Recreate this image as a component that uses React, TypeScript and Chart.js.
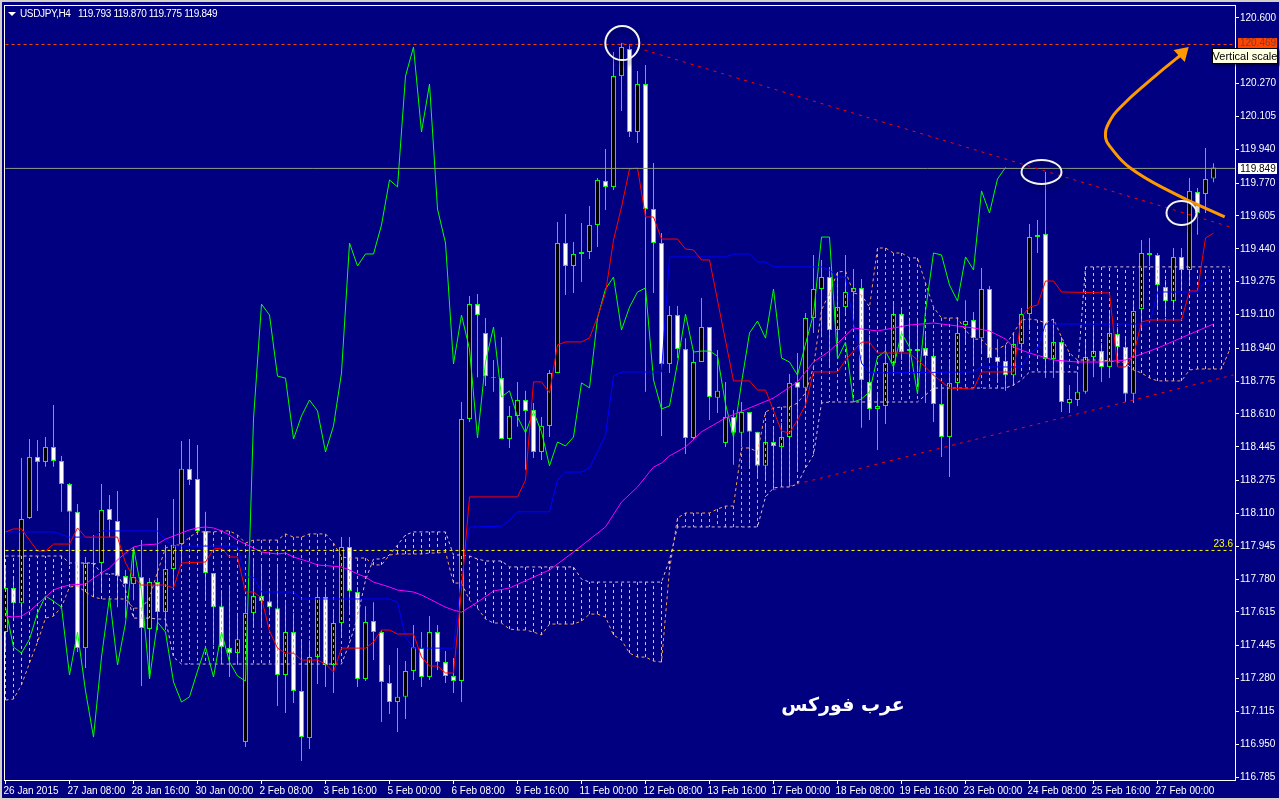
import React, { useEffect, useRef } from "react";
import { Chart, registerables } from "chart.js";

Chart.register(...registerables);

const opens = [
117.514,117.735,117.659,118.087,118.394,118.369,118.444,118.374,118.258,118.118,117.433,117.861,117.861,118.132,118.072,117.795,117.755,117.790,117.529,117.765,
117.614,117.831,117.956,118.334,118.283,118.022,117.811,117.644,117.433,117.408,116.961,117.609,117.695,117.669,117.634,117.298,117.514,117.218,116.981,117.388,
117.690,117.348,117.559,117.941,117.715,117.278,117.569,117.514,117.258,117.162,117.188,117.318,117.433,117.288,117.514,117.363,117.293,117.268,118.585,119.162,
119.017,118.795,118.790,118.484,118.600,118.680,118.630,118.419,118.550,118.816,119.469,119.354,119.424,119.424,119.560,119.781,119.751,120.308,120.444,120.027,
120.268,119.640,119.469,118.861,119.107,118.936,118.489,118.871,119.047,118.691,118.464,118.595,118.515,118.620,118.520,118.349,118.469,118.444,118.494,118.771,
118.741,119.092,119.238,119.298,119.032,119.147,119.223,119.243,118.771,118.635,118.650,118.866,119.112,118.936,118.936,118.941,118.901,118.660,118.494,118.766,
119.057,119.082,118.991,119.238,118.896,118.876,118.805,118.961,119.112,119.510,119.515,118.886,118.971,118.665,118.680,118.721,118.896,118.926,118.846,119.012,
118.946,118.711,119.137,119.419,119.409,119.248,119.177,119.399,119.334,119.726,119.716,119.793];

const closes = [
117.735,117.659,118.082,118.394,118.369,118.444,118.374,118.258,118.118,117.433,117.861,117.856,118.127,118.077,117.795,117.755,117.790,117.534,117.765,117.614,
117.831,117.951,118.334,118.278,118.022,117.811,117.639,117.438,117.408,117.478,117.609,117.695,117.669,117.639,117.298,117.514,117.218,116.986,117.388,117.690,
117.348,117.559,117.941,117.720,117.278,117.564,117.514,117.263,117.162,117.188,117.318,117.438,117.288,117.514,117.363,117.293,117.268,118.585,119.162,119.107,
118.800,118.790,118.484,118.600,118.680,118.625,118.419,118.550,118.816,119.469,119.354,119.414,119.414,119.560,119.786,119.751,120.308,120.454,120.027,120.268,
119.640,119.469,118.861,119.107,118.936,118.489,118.871,119.047,118.695,118.726,118.595,118.515,118.620,118.520,118.349,118.469,118.449,118.494,118.766,118.741,
119.092,119.238,119.298,119.032,119.147,119.223,119.243,118.781,118.635,118.650,118.866,119.112,118.921,118.926,118.926,118.901,118.660,118.494,118.766,119.017,
119.077,118.991,119.238,118.891,118.871,118.805,118.961,119.112,119.499,119.499,118.886,118.971,118.670,118.685,118.721,118.896,118.926,118.846,119.017,118.946,
118.711,119.127,119.419,119.409,119.258,119.177,119.399,119.334,119.731,119.620,119.791,119.849];

const highs = [
117.836,117.785,118.389,118.484,118.479,118.494,118.655,118.399,118.263,118.157,117.891,118.002,118.258,118.203,118.223,117.826,117.941,117.976,117.785,118.087,
117.951,118.182,118.474,118.484,118.454,118.118,117.811,117.725,117.740,117.609,117.695,117.881,117.841,117.725,117.851,117.659,117.609,117.473,117.473,117.740,
117.740,117.614,117.991,117.991,117.740,117.644,117.664,117.524,117.348,117.433,117.368,117.549,117.514,117.594,117.549,117.418,117.383,118.670,119.203,119.213,
119.092,118.881,118.996,118.650,118.771,118.726,118.665,118.595,118.831,119.575,119.615,119.474,119.570,119.655,119.796,119.941,120.429,120.474,120.469,120.334,
120.364,119.871,119.520,119.152,119.152,118.991,118.931,119.193,119.047,118.931,118.771,118.630,118.670,118.620,118.520,118.565,118.540,118.565,118.811,118.916,
119.117,119.409,119.384,119.349,119.323,119.409,119.338,119.288,119.007,118.716,118.946,119.172,119.132,119.092,119.092,119.017,118.941,118.746,118.886,119.097,
119.182,119.122,119.343,119.253,118.986,118.941,119.007,119.142,119.565,119.585,119.826,119.082,118.981,118.756,118.821,118.981,119.057,118.966,119.117,119.047,
118.996,119.182,119.484,119.494,119.419,119.283,119.444,119.444,119.796,119.746,119.947,119.870];

const lows = [
117.423,117.574,117.589,118.082,118.122,118.344,118.344,118.118,117.851,117.413,117.333,117.690,117.725,117.991,117.639,117.584,117.674,117.243,117.278,117.524,
117.524,117.740,117.861,118.253,118.017,117.674,117.448,117.358,117.288,117.348,116.936,117.534,117.534,117.614,117.142,117.107,117.157,116.866,116.926,117.253,
117.238,117.208,117.488,117.599,117.238,117.268,117.373,117.062,117.102,117.012,117.077,117.273,117.238,117.273,117.323,117.258,117.208,117.162,118.570,118.795,
118.751,118.721,118.484,118.439,118.545,118.329,118.389,118.379,118.494,118.816,119.208,119.218,119.273,119.389,119.449,119.635,119.736,120.132,120.002,119.972,
118.721,119.218,118.499,118.816,118.891,118.409,118.479,118.871,118.580,118.615,118.444,118.354,118.444,118.344,118.289,118.278,118.228,118.243,118.243,118.329,
118.645,119.017,118.996,118.856,118.891,119.107,119.047,118.540,118.580,118.429,118.560,118.821,118.881,118.816,118.746,118.665,118.570,118.394,118.293,118.726,
118.971,118.856,118.921,118.871,118.766,118.726,118.751,118.931,119.032,119.419,118.791,118.791,118.620,118.615,118.650,118.711,118.795,118.771,118.791,118.846,
118.670,118.665,119.032,119.354,119.132,119.097,119.132,119.233,119.258,119.510,119.620,119.775];

// Chikou span, bars 0 to 125
const chikou = [
117.639,117.438,117.408,117.478,117.609,117.695,117.669,117.639,117.298,117.514,117.218,116.986,117.388,117.690,117.348,117.559,117.941,117.720,117.278,117.564,
117.514,117.263,117.162,117.188,117.318,117.438,117.288,117.514,117.363,117.293,117.268,118.585,119.162,119.107,118.800,118.790,118.484,118.600,118.680,118.625,
118.419,118.550,118.816,119.469,119.354,119.414,119.414,119.560,119.786,119.751,120.308,120.454,120.027,120.268,119.640,119.469,118.861,119.107,118.936,118.489,
118.871,119.047,118.695,118.726,118.595,118.515,118.620,118.520,118.349,118.469,118.449,118.494,118.766,118.741,119.092,119.238,119.298,119.032,119.147,119.223,
119.243,118.781,118.635,118.650,118.866,119.112,118.921,118.926,118.926,118.901,118.660,118.494,118.766,119.017,119.077,118.991,119.238,118.891,118.871,118.805,
118.961,119.112,119.499,119.499,118.886,118.971,118.670,118.685,118.721,118.896,118.926,118.846,119.017,118.946,118.711,119.127,119.419,119.409,119.258,119.177,
119.399,119.334,119.731,119.620,119.791,119.849];

const tenkan: [number, number][] = [
[0,118.017],[1,118.032],[2,118.032],[3,117.976],[4,117.921],[5,117.921],[6,117.956],[8,117.956],[9,118.037],[10,117.991],[14,117.991],[15,117.861],[16,117.790],[17,117.750],[20,117.750],[21,117.735],[22,117.861],[25,117.866],[26,117.931],[27,117.936],[28,117.891],[29,117.891],
[30,117.715],[31,117.715],[32,117.685],[33,117.519],[34,117.433],[35,117.408],[36,117.408],[37,117.373],[39,117.373],[40,117.353],[41,117.313],[42,117.433],[45,117.433],[46,117.464],[47,117.524],[48,117.524],[49,117.504],[51,117.504],[52,117.388],[53,117.343],[54,117.343],[55,117.308],[56,117.308],[57,117.725],[58,118.193],
[64,118.193],[65,118.278],[66,118.771],[67,118.771],[68,118.716],[69,118.957],[70,118.972],[72,118.972],[73,118.992],[74,119.097],[75,119.218],[76,119.484],[77,119.650],[78,119.841],[79,119.846],[80,119.600],[81,119.600],[82,119.489],[84,119.489],[85,119.439],[86,119.434],[87,119.384],[88,119.384],
[91,118.776],[93,118.776],[94,118.730],[95,118.730],[97,118.524],[98,118.514],[99,118.580],[100,118.655],[101,118.821],[104,118.821],[105,118.881],[107,118.971],[108,118.971],[109,118.916],[113,118.916],[114,118.881],[115,118.846],[116,118.805],[118,118.740],[121,118.735],[122,118.821],[126,118.821],
[127,119.097],[128,119.147],[129,119.157],[130,119.278],[131,119.278],[132,119.223],[138,119.218],[139,118.846],[140,118.846],[141,118.906],[142,119.072],[143,119.082],[147,119.082],[148,119.228],[149,119.228],[150,119.494],[151,119.519]];

const kijun: [number, number][] = [
[0,118.017],[6,118.017],[8,117.991],[11,117.991],[12,118.022],[19,118.022],[20,117.976],[21,117.946],[29,117.946],[30,117.790],[31,117.790],[32,117.715],[36,117.715],[37,117.680],[48,117.680],[49,117.664],[50,117.488],[51,117.433],[56,117.433],[57,117.790],[58,118.041],[62,118.046],[63,118.077],[64,118.118],[68,118.118],[69,118.278],[70,118.318],[72,118.318],[73,118.339],[74,118.419],[75,118.505],[76,118.801],[77,118.821],[82,118.821],[83,119.399],[90,119.399],[91,119.414],[93,119.414],[94,119.374],[95,119.374],[96,119.349],[102,119.349],[103,119.333],[104,119.298],[105,119.298],[106,119.067],[107,118.866],[108,118.816],[121,118.821],[122,118.846],[127,118.846],[128,118.916],[129,118.941],[130,119.062],[143,119.062],[144,119.223],[149,119.223],[150,119.278],[151,119.278]];

const movingAverage: [number, number][] = [
[0,117.594],[1,117.589],[2,117.594],[3,117.619],[4,117.654],[5,117.690],[6,117.725],[7,117.740],[8,117.750],[10,117.755],[11,117.785],[12,117.811],[13,117.836],[14,117.876],[15,117.911],[16,117.941],[17,117.951],[19,117.956],[20,117.981],[21,117.996],[22,118.012],[23,118.027],[24,118.037],[25,118.042],[26,118.037],[27,118.022],[28,118.002],[29,117.976],[31,117.936],[32,117.916],[34,117.906],[35,117.911],[36,117.891],[38,117.866],[39,117.851],[42,117.841],[43,117.826],[44,117.806],[45,117.790],[46,117.765],[48,117.740],[49,117.725],[51,117.715],[52,117.700],[53,117.680],[54,117.659],[55,117.639],[56,117.624],[57,117.614],[58,117.639],[59,117.664],[61,117.720],[63,117.735],[68,117.826],[71,117.916],[75,118.042],[77,118.167],[79,118.243],[81,118.343],[82,118.363],[83,118.399],[85,118.444],[87,118.520],[90,118.590],[96,118.690],[99,118.771],[101,118.871],[103,118.926],[106,119.042],[109,119.027],[113,119.057],[116,119.067],[119,119.052],[121,119.042],[123,119.027],[125,118.987],[126,118.946],[128,118.916],[131,118.881],[134,118.871],[137,118.871],[140,118.881],[144,118.941],[151,119.062]];

// Senkou span A and B, bars 0 to 153
const spanA = [
117.172,117.177,117.248,117.358,117.463,117.584,117.594,117.639,117.740,117.745,117.715,117.690,117.680,117.680,117.680,117.680,117.634,117.634,117.685,117.816,
117.936,117.951,117.951,117.991,118.017,118.017,118.017,118.022,118.022,118.002,117.961,117.976,117.976,117.976,117.976,118.007,117.991,117.991,118.007,118.007,
118.007,117.961,117.891,117.886,117.886,117.886,117.851,117.851,117.901,117.906,117.906,117.906,117.906,117.911,117.911,117.916,117.760,117.760,117.674,117.634,
117.579,117.559,117.559,117.529,117.524,117.524,117.514,117.499,117.554,117.554,117.554,117.554,117.569,117.604,117.604,117.589,117.499,117.473,117.408,117.388,
117.388,117.368,117.363,117.826,118.087,118.112,118.112,118.112,118.112,118.132,118.147,118.147,118.439,118.439,118.419,118.620,118.640,118.645,118.645,118.665,
118.716,118.846,119.132,119.218,119.323,119.328,119.218,119.208,119.147,119.444,119.444,119.419,119.419,119.394,119.394,119.268,119.147,119.092,119.092,119.092,
119.032,118.986,118.986,118.941,118.936,118.956,119.017,119.082,119.087,119.082,119.067,119.087,118.996,118.916,118.881,118.881,118.881,118.881,118.876,118.871,
118.866,118.831,118.816,118.791,118.776,118.776,118.776,118.776,118.831,118.836,118.836,118.836,118.836,118.931];

const spanB = [
117.896,117.896,117.896,117.896,117.896,117.896,117.896,117.896,117.861,117.861,117.861,117.861,117.806,117.806,117.806,117.725,117.584,117.584,117.584,117.579,
117.579,117.388,117.353,117.353,117.353,117.353,117.353,117.353,117.353,117.353,117.353,117.353,117.353,117.353,117.353,117.353,117.353,117.353,117.353,117.353,
117.353,117.353,117.353,117.458,117.589,117.775,117.881,117.881,117.901,117.951,118.002,118.017,118.017,118.017,118.017,118.017,117.901,117.901,117.896,117.881,
117.871,117.871,117.871,117.841,117.841,117.841,117.841,117.841,117.841,117.841,117.841,117.841,117.780,117.765,117.765,117.765,117.765,117.765,117.765,117.765,
117.765,117.765,117.765,117.876,118.042,118.042,118.042,118.042,118.042,118.042,118.042,118.042,118.042,118.042,118.042,118.193,118.238,118.243,118.243,118.258,
118.338,118.404,118.665,118.670,118.670,118.670,118.670,118.670,118.670,118.670,118.670,118.670,118.670,118.670,118.670,118.705,118.740,118.740,118.740,118.740,
118.740,118.740,118.740,118.740,118.740,118.740,118.756,118.781,118.821,118.821,118.821,118.821,118.821,118.821,118.821,119.349,119.349,119.349,119.349,119.349,
119.349,119.349,119.349,119.349,119.349,119.349,119.349,119.349,119.349,119.349,119.349,119.349,119.349,119.349];

const trendDown: [number, number][] = [[77,120.474],[153.5,119.545]];
const trendUp: [number, number][] = [[96,118.228],[153.5,118.806]];
const arrowPath: [number, number][] = [[152.4,119.600],[146,119.720],[140.6,119.846],[138.1,119.952],[137.5,120.002],[137.9,120.072],[139.4,120.153],[143.1,120.288],[146.6,120.404],[147.4,120.425]];
const arrowHead: [number, number][] = [[147.9,120.454],[146,120.439],[147.4,120.379]];
const circles: [number, number, number, number][] = [[77.1,120.474,17,17],[129.5,119.826,20,12],[147,119.620,15,12]];

const highLevel = 120.467;
const bidLevel = 119.844;
const fiboLevel = 117.924;

const xTickBars = [0,8,16,24,32,40,48,56,64,72,80,88,96,104,112,120,128,136,144];
const xTickLabels = ["26 Jan 2015","27 Jan 08:00","28 Jan 16:00","30 Jan 00:00","2 Feb 08:00","3 Feb 16:00","5 Feb 00:00","6 Feb 08:00","9 Feb 16:00","11 Feb 00:00","12 Feb 08:00","13 Feb 16:00","17 Feb 00:00","18 Feb 08:00","19 Feb 16:00","23 Feb 00:00","24 Feb 08:00","25 Feb 16:00","27 Feb 00:00"];
const yTicks = [120.6,120.27,120.105,119.94,119.77,119.605,119.44,119.275,119.11,118.94,118.775,118.61,118.445,118.275,118.11,117.945,117.78,117.615,117.445,117.28,117.115,116.95,116.785];

const headerName = "USDJPY,H4";
const headerValues = "119.793 119.870 119.775 119.849";
const logoText = "عرب فوركس";

const FONT = '10px "Liberation Sans", Arial, sans-serif';
const NAVY = "#000080";
const LIME = "#00ff00";

const xy = (list: [number, number][]) => list.map(([x, y]) => ({ x, y }));
const line = (label: string, data: any[], color: string, extra: any = {}) => ({
  type: "line" as const, label, data, borderColor: color, borderWidth: 1, pointRadius: 0, tension: 0, fill: false, order: 5, ...extra,
});
const noScalePadding = (scale: any) => {
  scale.paddingTop = 0;
  scale.paddingBottom = 0;
  scale.paddingLeft = 0;
  scale.paddingRight = 0;
};

const chromePlugin = {
  id: "chrome",
  beforeDraw(chart: any) {
    const { ctx, width, height } = chart;
    ctx.save();
    ctx.fillStyle = NAVY;
    ctx.fillRect(0, 0, width, height);
    ctx.fillStyle = "#d4d0c8";
    ctx.fillRect(0, 0, width, 2);
    ctx.fillRect(0, 0, 2, height);
    ctx.fillRect(0, height - 2, width, 2);
    ctx.fillRect(width - 1, 0, 1, height);
    ctx.fillStyle = "#ffffff";
    ctx.fillRect(4, 5, 1231, 1);
    ctx.fillRect(4, 5, 1, 775);
    ctx.restore();
  },
  afterDatasetDraw(chart: any, args: any) {
    if (args.index !== 1) return;
    const { ctx, scales, chartArea } = chart;
    ctx.save();
    ctx.beginPath();
    ctx.rect(chartArea.left, chartArea.top, chartArea.width, chartArea.height);
    ctx.clip();
    ctx.lineWidth = 1;
    ctx.setLineDash([3, 3]);
    spanA.forEach((a, i) => {
      const b = spanB[i];
      const x = Math.floor(scales.x.getPixelForValue(i)) + 0.5;
      ctx.strokeStyle = a > b ? "#f4a460" : "#d8bfd8";
      ctx.beginPath();
      ctx.moveTo(x, scales.y.getPixelForValue(a));
      ctx.lineTo(x, scales.y.getPixelForValue(b));
      ctx.stroke();
    });
    ctx.restore();
  },
  afterDraw(chart: any) {
    const { ctx, scales } = chart;
    const X = (v: number) => scales.x.getPixelForValue(v);
    const Y = (v: number) => scales.y.getPixelForValue(v);
    ctx.save();
    ctx.fillStyle = "#ff9900";
    ctx.beginPath();
    arrowHead.forEach(([bx, p], i) => (i ? ctx.lineTo(X(bx), Y(p)) : ctx.moveTo(X(bx), Y(p))));
    ctx.closePath();
    ctx.fill();
    ctx.shadowColor = "rgba(0,0,40,0.55)";
    ctx.shadowBlur = 5;
    ctx.shadowOffsetX = 3;
    ctx.shadowOffsetY = 3;
    ctx.strokeStyle = "#f4f4f4";
    ctx.lineWidth = 2;
    circles.forEach(([bx, p, rx, ry]) => {
      ctx.beginPath();
      ctx.ellipse(X(bx), Y(p), rx, ry, 0, 0, Math.PI * 2);
      ctx.stroke();
    });
    ctx.shadowColor = "transparent";
    ctx.shadowBlur = 0;
    ctx.shadowOffsetX = 0;
    ctx.shadowOffsetY = 0;

    ctx.font = FONT;
    ctx.textBaseline = "middle";
    ctx.textAlign = "left";
    ctx.fillStyle = "#ffffff";
    ctx.beginPath();
    ctx.moveTo(8, 12);
    ctx.lineTo(16, 12);
    ctx.lineTo(12, 16);
    ctx.closePath();
    ctx.fill();
    ctx.letterSpacing = "-0.35px";
    ctx.fillText(headerName, 20, 14);
    ctx.fillText(headerValues, 78, 14);
    ctx.letterSpacing = "0px";

    ctx.textAlign = "center";
    ctx.fillStyle = "#ff4500";
    ctx.fillRect(1238, 38, 39, 10);
    ctx.fillStyle = "#803c30";
    ctx.fillText("120.469", 1258, 43.5);
    ctx.fillStyle = "#ffffff";
    ctx.fillRect(1238, 163, 39, 11);
    ctx.fillStyle = "#000000";
    ctx.fillText("119.849", 1258, 169);

    ctx.textAlign = "right";
    ctx.fillStyle = "#ffff00";
    ctx.fillText("23.6", 1233, Y(fiboLevel) - 6);

    ctx.shadowColor = "rgba(0,0,30,0.6)";
    ctx.shadowBlur = 2;
    ctx.shadowOffsetX = 2;
    ctx.shadowOffsetY = 2;
    ctx.fillStyle = "#ffffe1";
    ctx.fillRect(1212, 48, 66, 16);
    ctx.shadowColor = "transparent";
    ctx.shadowBlur = 0;
    ctx.shadowOffsetX = 0;
    ctx.shadowOffsetY = 0;
    ctx.strokeStyle = "#000000";
    ctx.lineWidth = 1;
    ctx.strokeRect(1212.5, 48.5, 65, 15);
    ctx.textAlign = "center";
    ctx.fillStyle = "#000000";
    ctx.font = '11px "Liberation Sans", Arial, sans-serif';
    ctx.fillText("Vertical scale", 1245, 56.5);

    ctx.font = 'bold 19px "DejaVu Sans", sans-serif';
    ctx.fillStyle = "#ffffff";
    ctx.direction = "rtl";
    ctx.textAlign = "center";
    ctx.fillText(logoText, 843, 706);
    ctx.restore();
  },
};

export default function App() {
  const ref = useRef<HTMLCanvasElement | null>(null);
  useEffect(() => {
    document.body.style.margin = "0";
    document.body.style.background = NAVY;
    document.body.style.overflow = "hidden";
    const chart = new Chart(ref.current as HTMLCanvasElement, {
      type: "bar",
      data: {
        datasets: [
          {
            label: "Wicks",
            data: highs.map((h, i) => ({ x: i, y: [lows[i], h] })),
            backgroundColor: LIME,
            borderWidth: 0,
            barThickness: 1,
            grouped: false,
            inflateAmount: 0,
            order: 20,
          },
          {
            label: "Bodies",
            data: closes.map((c, i) => ({ x: i, y: [opens[i], c] })),
            backgroundColor: closes.map((c, i) => (c >= opens[i] ? "#000000" : "#ffffff")),
            borderColor: LIME,
            borderWidth: 1,
            borderSkipped: false,
            barThickness: 5,
            grouped: false,
            inflateAmount: 0,
            order: 19,
          },
          line("Chikou", chikou.map((y, x) => ({ x, y })), LIME),
          line("Tenkan", xy(tenkan), "#ff0000", { order: 3 }),
          line("Kijun", xy(kijun), "#0000ff", { order: 4 }),
          line("MA", xy(movingAverage), "#ff00ff", { order: 3 }),
          line("Span A", spanA.map((y, x) => ({ x, y })), "#f4a460", { borderDash: [3, 3], order: 6 }),
          line("Span B", spanB.map((y, x) => ({ x, y })), "#d8bfd8", { borderDash: [3, 3], order: 6 }),
          line("Trend down", xy(trendDown), "#ff0000", { borderDash: [3, 5], order: 2 }),
          line("Trend up", xy(trendUp), "#ff0000", { borderDash: [3, 5], order: 2 }),
          line("High", [{ x: 0, y: highLevel }, { x: 153.7, y: highLevel }], "#ff4500", { borderDash: [3, 3], order: 2 }),
          line("Bid", [{ x: 0, y: bidLevel }, { x: 153.7, y: bidLevel }], "#8f9a80", { order: 2 }),
          line("Fibo 23.6", [{ x: 0, y: fiboLevel }, { x: 153.3, y: fiboLevel }], "#ffff00", { borderDash: [3, 3], order: 2 }),
          line("Arrow", xy(arrowPath), "#ff9900", { borderWidth: 3, tension: 0.45, order: 1 }),
        ] as any,
      },
      options: {
        animation: false,
        responsive: false,
        devicePixelRatio: 1,
        layout: { autoPadding: false, padding: { left: 4, top: 5, right: 0, bottom: 0 } },
        plugins: { legend: { display: false }, tooltip: { enabled: false }, title: { display: false } },
        events: [],
        scales: {
          x: {
            type: "linear",
            offset: false,
            bounds: "data",
            min: -0.1875,
            max: 153.6875,
            grid: { offset: false, drawOnChartArea: false, tickColor: "#ffffff", tickLength: 4 },
            border: { color: "#ffffff", width: 1 },
            afterBuildTicks(scale: any) {
              scale.ticks = xTickBars.map((value) => ({ value }));
            },
            afterFit(scale: any) {
              scale.height = 20;
              noScalePadding(scale);
            },
            ticks: {
              autoSkip: false,
              maxRotation: 0,
              minRotation: 0,
              align: "start",
              labelOffset: -2,
              padding: 1,
              color: "#ffffff",
              font: { family: '"Liberation Sans", Arial, sans-serif', size: 10 },
              callback: (_v: any, i: number) => xTickLabels[i],
            },
          },
          y: {
            type: "linear",
            position: "right",
            bounds: "data",
            min: 116.7702,
            max: 120.6653,
            grid: { drawOnChartArea: false, tickColor: "#ffffff", tickLength: 4 },
            border: { color: "#ffffff", width: 1 },
            afterBuildTicks(scale: any) {
              scale.ticks = yTicks.map((value) => ({ value }));
            },
            afterFit(scale: any) {
              scale.width = 45;
              noScalePadding(scale);
            },
            ticks: {
              autoSkip: false,
              padding: 1,
              color: "#ffffff",
              font: { family: '"Liberation Sans", Arial, sans-serif', size: 10 },
              callback: (v: any) => Number(v).toFixed(3),
            },
          },
        },
      } as any,
      plugins: [chromePlugin],
    });
    return () => chart.destroy();
  }, []);
  return <canvas ref={ref} width={1280} height={800} style={{ display: "block", width: 1280, height: 800 }} />;
}
